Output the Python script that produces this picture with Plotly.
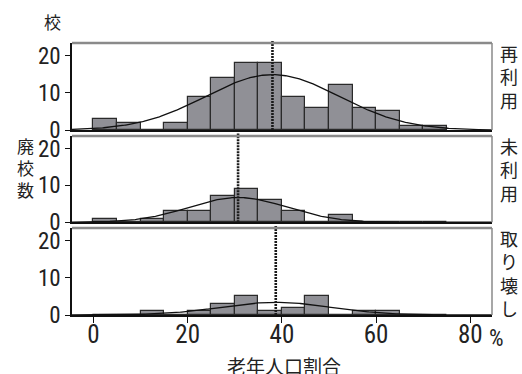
import numpy as np
import plotly.graph_objects as go

# 5-point bins of the elderly population share (%)
bin_left = [0, 5, 10, 15, 20, 25, 30, 35, 40, 45, 50, 55, 60, 65, 70]
bin_width = 5

# number of closed schools per bin
reused = [3, 2, 0, 2, 9, 14, 18, 18, 9, 6, 12, 6, 5, 1, 1]
unused = [1, 0, 1, 3, 3, 7, 9, 6, 3, 0, 2, 0, 0, 0, 0]
demolished = [0, 0, 1, 0, 1, 3, 5, 1, 2, 5, 0, 1, 1, 0, 0]

# fitted normal distribution per group (mean, sd in %)
means = [38.0, 30.7, 38.7]
sds = [14.2, 10.4, 11.7]

group_labels = ["再<br>利<br>用", "未<br>利<br>用", "取<br>り<br>壊<br>し"]
x_ticks = [0, 20, 40, 60, 80]
y_ticks = [0, 10, 20]

series = [reused, unused, demolished]
domains = [[0.680, 1.0], [0.341, 0.658], [0.0, 0.320]]
x_range = [-4.55, 84.6]
y_range = [0, 23.4]

num_font = "Roboto Condensed, Roboto, sans-serif"
cjk_font = "Noto Sans CJK JP, sans-serif"

fig = go.Figure()
centers = [b + bin_width / 2 for b in bin_left]
xs = np.linspace(x_range[0], x_range[1], 400)

for i, counts in enumerate(series):
    suffix = "" if i == 0 else str(i + 1)
    fig.add_trace(go.Bar(
        x=centers, y=counts, width=bin_width,
        marker=dict(color="#909096", line=dict(color="#2a2a2a", width=1.2)),
        xaxis="x" + suffix, yaxis="y" + suffix, showlegend=False,
    ))
    n = sum(counts)
    dens = n * bin_width / (sds[i] * np.sqrt(2 * np.pi)) * np.exp(-0.5 * ((xs - means[i]) / sds[i]) ** 2)
    fig.add_trace(go.Scatter(
        x=xs, y=dens, mode="lines", line=dict(color="#111", width=1.3),
        xaxis="x" + suffix, yaxis="y" + suffix, showlegend=False, hoverinfo="skip",
    ))
    # mean marker
    fig.add_shape(type="line", xref="x" + suffix, yref="y" + suffix + " domain",
                  x0=means[i], x1=means[i], y0=0, y1=1.03,
                  line=dict(color="#1a1a1a", width=2.6, dash="2px,1px"), layer="above")
    # gray top and right frame
    d = domains[i]
    fig.add_shape(type="line", xref="paper", yref="paper", x0=0, x1=1, y0=d[1], y1=d[1],
                  line=dict(color="#8a8a8a", width=2.5))
    fig.add_shape(type="line", xref="paper", yref="paper", x0=1, x1=1, y0=d[0], y1=d[1],
                  line=dict(color="#8a8a8a", width=1.5))
    # group label on the right
    fig.add_annotation(text=group_labels[i], xref="paper", yref="paper",
                       x=1.0, xshift=17, y=d[1], yshift=5, xanchor="center", yanchor="top",
                       showarrow=False, font=dict(family=cjk_font, size=18, color="#222"))

    xa = dict(range=x_range, domain=[0, 1], anchor="y" + suffix,
              showline=True, linecolor="#111", linewidth=1.5,
              showgrid=False, zeroline=False, fixedrange=True)
    if i < 2:
        xa.update(showticklabels=False, ticks="")
    else:
        xa.update(tickvals=x_ticks, ticks="outside", ticklen=6, tickcolor="#111",
                  ticklabelstandoff=-10,
                  tickfont=dict(family=num_font, size=25, color="#222"))
    ya = dict(range=y_range, domain=d, anchor="x" + suffix,
              tickvals=y_ticks, ticks="outside", ticklen=5, tickcolor="#111",
              showline=True, linecolor="#111", linewidth=1.5,
              showgrid=False, zeroline=False, fixedrange=True,
              tickfont=dict(family=num_font, size=23, color="#222"))
    fig.update_layout({"xaxis" + suffix: xa, "yaxis" + suffix: ya})

# unit mark beside the last x tick label
fig.add_annotation(text="%", xref="x3", yref="paper", x=x_ticks[-1], xshift=26, y=0, yshift=-8,
                   xanchor="center", yanchor="top", showarrow=False,
                   font=dict(family=num_font, size=23, color="#222"))
fig.add_annotation(text="老年人口割合", xref="paper", yref="paper", x=0.5, xshift=2, y=0, yshift=-50,
                   xanchor="center", yanchor="middle", showarrow=False,
                   font=dict(family=cjk_font, size=19, color="#222"))
fig.add_annotation(text="校", xref="paper", yref="paper", x=0, xshift=-20, y=1, yshift=22,
                   xanchor="center", yanchor="middle", showarrow=False,
                   font=dict(family=cjk_font, size=17, color="#222"))
fig.add_annotation(text="廃<br>校<br>数", xref="paper", yref="paper", x=0, xshift=-47,
                   y=domains[1][1], yshift=5, xanchor="center", yanchor="top", showarrow=False,
                   font=dict(family=cjk_font, size=17, color="#222"))

fig.update_layout(
    width=522, height=374,
    margin=dict(l=72, r=30, t=43, b=59),
    paper_bgcolor="white", plot_bgcolor="white",
    bargap=0,
)

fig.write_html("out.html")
